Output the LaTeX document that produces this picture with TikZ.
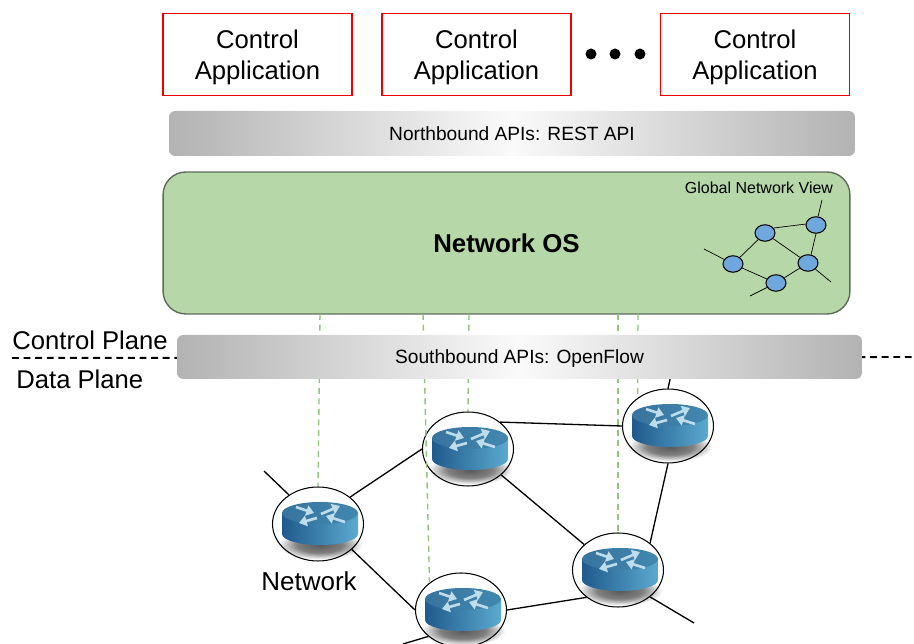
\documentclass[tikz,border=0pt]{standalone}
\usepackage{fontspec}
\setmainfont{Liberation Sans}
\usetikzlibrary{shapes.geometric,arrows.meta}
\definecolor{appred}{HTML}{F00000}
\definecolor{osgreen}{HTML}{B6D7A8}
\definecolor{osedge}{HTML}{5F6B5A}
\definecolor{viewblue}{HTML}{6FA8DC}
\definecolor{probegreen}{HTML}{93C47D}
\definecolor{routerdark}{HTML}{1F5A8C}
\definecolor{routerlight}{HTML}{5BAAD0}
\definecolor{routertopa}{HTML}{37749E}
\definecolor{routertopb}{HTML}{4288B0}
\definecolor{routerarrow}{HTML}{BFDCEB}
\pgfdeclareradialshading{routershadow}{\pgfpointorigin}{color(0bp)=(black!65); color(13bp)=(black!50); color(24bp)=(white); color(50bp)=(white)}
\tikzset{
  appbox/.style={draw=appred,line width=1.1pt,fill=white,minimum width=3.78cm,minimum height=1.64cm,align=center,text depth=0pt,font=\fontsize{14.6}{17.6}\selectfont},
  apibar/.style={rounded corners=3.5pt,left color=black!30,right color=black!30,middle color=black!2,text depth=0pt,font=\fontsize{10.9}{13}\selectfont},
  viewnode/.style={shape=ellipse,draw,fill=viewblue,line width=0.6pt,minimum width=0.4cm,minimum height=0.33cm,inner sep=0pt},
  routernode/.style={shape=ellipse,draw,line width=0.6pt,minimum width=1.82cm,minimum height=1.48cm,inner sep=0pt},
  link/.style={line width=0.75pt},
  probe/.style={draw=probegreen,line width=0.8pt,dash pattern=on 3.4pt off 2.6pt},
  planelabel/.style={font=\fontsize{14.6}{17}\selectfont,anchor=west,inner sep=0pt},
  router/.pic={
    \begin{scope}[y=0.02cm]
    \shade[shading=routershadow] (2,-21) ellipse (44 and 15);
    \shade[left color=routerdark,right color=routerlight] (-36,11) -- (-36,-10) arc[start angle=180,end angle=360,x radius=38,y radius=11] -- (40,11) -- cycle;
    \shade[left color=routertopa,right color=routertopb] (2,11) ellipse (38 and 11);
    \foreach \a/\b/\c/\d in {-22/17/-4/11,3/10/22/18,-1/6/-19/1,27/2/8/8}
      \draw[routerarrow,line width=1.5pt,-{Triangle[length=4.4pt,width=6pt]}] (\a,\b) -- (\c,\d);
    \end{scope}
  }
}
\begin{document}
\begin{tikzpicture}[x=0.02cm,y=-0.02cm]
    \useasboundingbox (0,0) rectangle (914,644);
    % control applications
    \node (app1) [appbox] at (257.5,54.5) {Control\\Application};
    \node (app2) [appbox] at (476.5,54.5) {Control\\Application};
    \node (app3) [appbox] at (755,54.5) {Control\\Application};
    \fill (591,54) circle (5.5);
    \fill (615,54) circle (5.5);
    \fill (640,54) circle (5.5);
    % northbound
    \node (north) [apibar,minimum width=13.72cm,minimum height=0.9cm] at (512,133.5) {Northbound APIs: REST API};
    % network os
    \node (os) [draw=osedge,fill=osgreen,line width=0.8pt,rounded corners=13pt,minimum width=13.74cm,minimum height=2.84cm,font=\bfseries\fontsize{14.7}{17}\selectfont] at (506.5,243) {Network OS};
    \node (view) [font=\fontsize{9.1}{11}\selectfont] at (759,188) {Global Network View};
    \path (733,264) node (v1) [viewnode] {}
    (765,233) node (v2) [viewnode] {}
    (816,225) node (v3) [viewnode] {}
    (808,263) node (v4) [viewnode] {}
    (776,283) node (v5) [viewnode] {};
    \coordinate (v1end) at (704,249);
    \coordinate (v3end) at (822,200);
    \coordinate (v4end) at (831,282);
    \coordinate (v5end) at (750,296);
    \draw (v1) -- (v2);
    \draw (v2.30) -- (v3.175);
    \draw (v2) -- (v4);
    \draw (v3.south) -- (v4.70);
    \draw (v1) -- (v5);
    \draw (v4) -- (v5);
    \draw (v1) -- (v1end);
    \draw (v3) -- (v3end);
    \draw (v4) -- (v4end);
    \draw (v5) -- (v5end);
    % routers
    \foreach \r/\x/\y in {r1/318/524,r2/468/449,r3/668/426,r4/618/570,r5/461/610} {
      \pic at (\x,\y) {router};
      \node (\r) [routernode] at (\x,\y) {};
    }
    % probes to the switches
    \coordinate (p1) at (320,314);
    \coordinate (p2) at (423,314);
    \coordinate (p3) at (469,314);
    \coordinate (p4) at (618,314);
    \coordinate (p5) at (638,314);
    \draw [probe] (p1) -- (r1.north);
    \draw [probe] (p2) -- (r5.139);
    \draw [probe] (p3) -- (r2.north);
    \draw [probe] (p4) -- (r4.north);
    \draw [probe] (p5) -- (r3.137);
    % plane divider
    \coordinate (div1) at (12,358);
    \coordinate (div2) at (914,357);
    \draw [line width=1.1pt,dash pattern=on 3.9pt off 2.7pt] (div1) -- (div2);
    \node (cplane) [planelabel] at (12,340) {Control Plane};
    \node (dplane) [planelabel] at (16,379) {Data Plane};
    % links
    \coordinate (r1end) at (264,471);
    \coordinate (r3end) at (671,375);
    \coordinate (r4end) at (694,623);
    \coordinate (r5end) at (403,644);
    \draw [link] (r1.40) -- (r2.west);
    \draw [link] (r2.40) -- (r3.west);
    \draw [link] (r2.-38) -- (r4.143);
    \draw [link] (r3.south) -- (r4.40);
    \draw [link] (r1.-37) -- (r5.west);
    \draw [link] (r4.221) -- (r5.east);
    \draw [link] (r1.135) -- (r1end);
    \draw [link] (r3.north) -- (r3end);
    \draw [link] (r4.-40) -- (r4end);
    \draw [link] (r5.-141) -- (r5end);
    % southbound
    \node (south) [apibar,minimum width=13.7cm,minimum height=0.88cm] at (519.5,357) {Southbound APIs: OpenFlow};
    \node (net) [font=\fontsize{14.8}{17}\selectfont] at (309,581) {Network};
\end{tikzpicture}
\end{document}
